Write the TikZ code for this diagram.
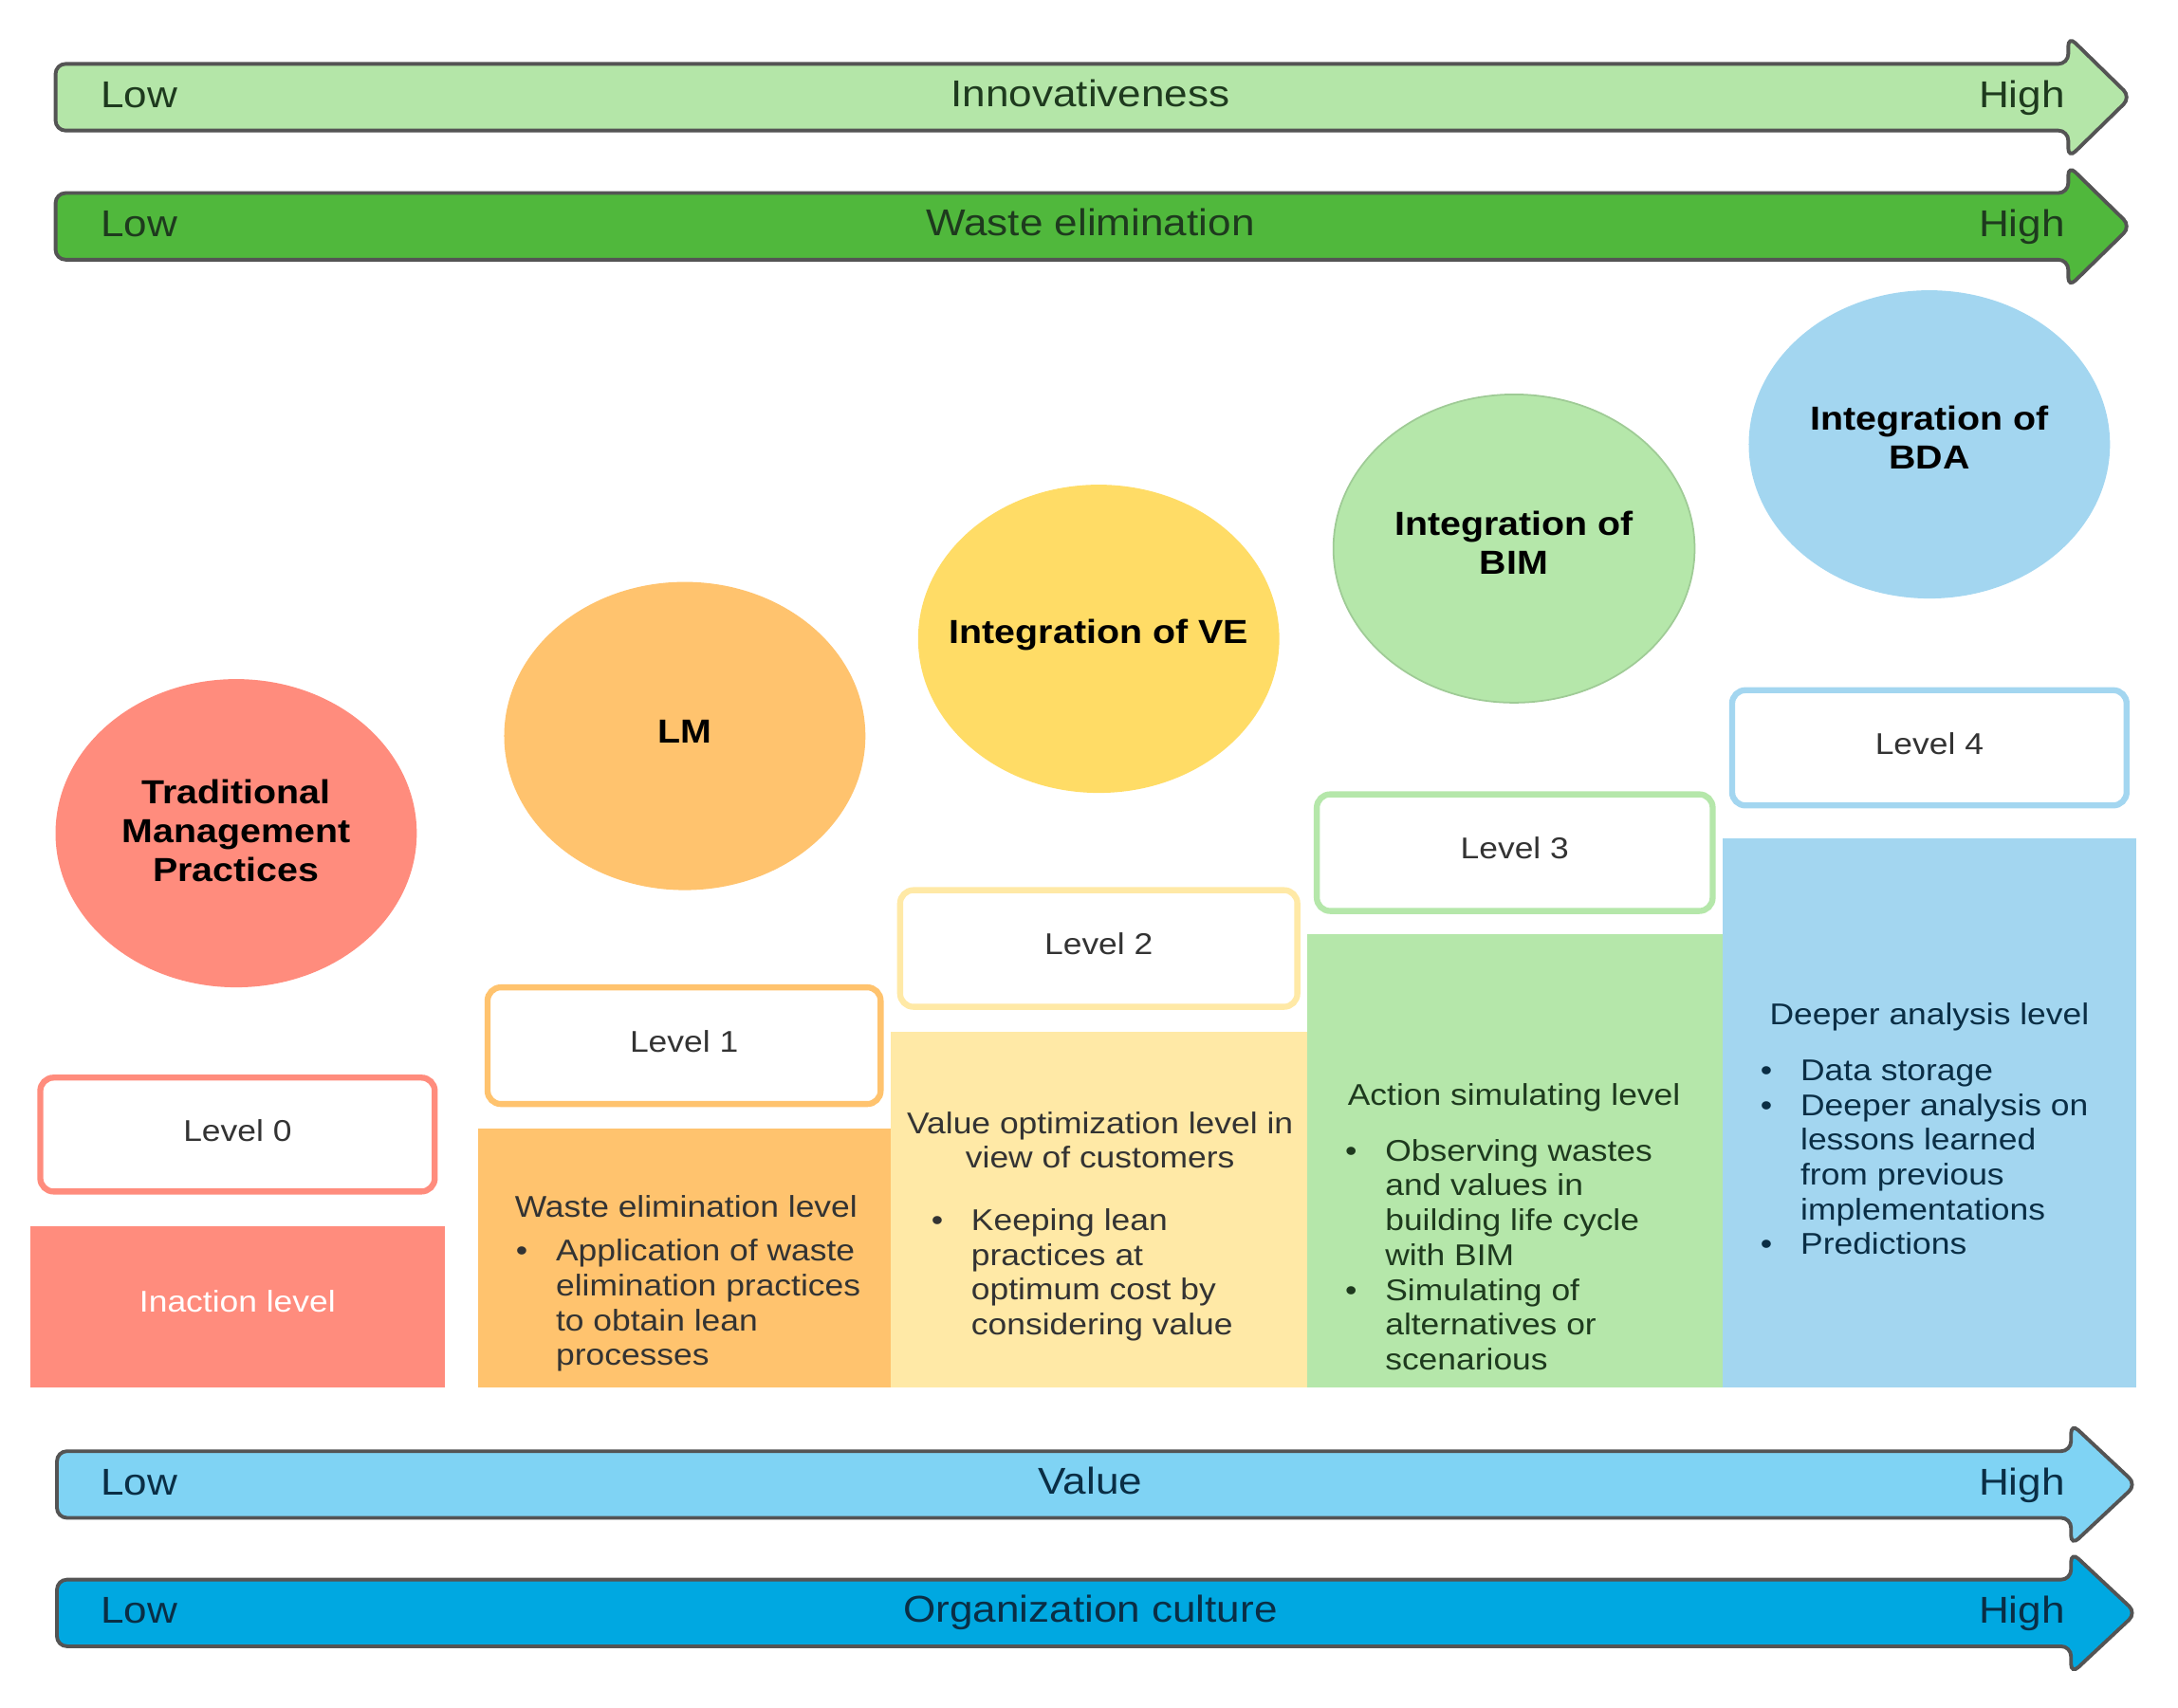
\documentclass[tikz,border=0pt]{standalone}
\usepackage{fontspec}
\setmainfont{Liberation Sans}[FakeStretch=1.12]
\usepackage{tikz}
\usetikzlibrary{calc}

\definecolor{arrA}{HTML}{B4E6A8}
\definecolor{arrB}{HTML}{50B83C}
\definecolor{arrC}{HTML}{7FD3F4}
\definecolor{arrD}{HTML}{00A8E1}
\definecolor{txtG}{HTML}{1E3A1E}
\definecolor{txtB}{HTML}{0A2E45}
\definecolor{cA}{HTML}{FF8C7D}
\definecolor{cB}{HTML}{FFC36E}
\definecolor{cC}{HTML}{FFE9A6}
\definecolor{cD}{HTML}{B5E7AA}
\definecolor{cE}{HTML}{A3D6F0}
\definecolor{ballC}{HTML}{FFDC66}

\newcommand\bodyfont{\fontsize{9}{10.45}\selectfont}

\tikzset{
  axis/.style = {draw=black!67, line width=1.1pt, rounded corners=3pt},
  axtext/.style = {font=\fontsize{11.2}{13}\selectfont, inner sep=0, text height=8pt, text depth=0pt},
  lvlbox/.style = {line width=1.8pt, rounded corners=4pt, fill=white},
  lvltext/.style = {font=\bodyfont, text=black!80, inner sep=0, text height=6.4pt, text depth=0pt},
  ball/.style = {x radius=19.04mm, y radius=16.25mm},
  balltext/.style = {inner sep=0, align=center, font=\fontsize{10}{11.7}\selectfont\bfseries},
  coltext/.style = {font=\bodyfont, inner sep=0, align=center},
  headtext/.style = {coltext, text height=6.4pt, text depth=0pt}
}

\begin{document}
\begin{tikzpicture}[x=0.14643mm, y=-0.14643mm]
\useasboundingbox (0, 0) rectangle (1568, 1229.9);
% low -> high axes
\foreach \yc/\xl/\xb/\xt/\fc/\tc/\lbl/\nm in {70/40/1489/1534/arrA/txtG/Innovativeness/inno,
    163/40/1489/1534/arrB/txtG/Waste elimination/waste,
    1069/41/1491/1538/arrC/txtB/Value/val,
    1161.5/41/1491/1538/arrD/txtB/Organization culture/cult}
{
  \draw [axis, fill=\fc] (\xl, \yc-24) -- (\xb, \yc-24) -- (\xb, \yc-44)
    -- (\xt, \yc) -- (\xb, \yc+44) -- (\xb, \yc+24) -- (\xl, \yc+24) -- cycle;
  \node at (72, \yc-2) [name=low\nm, axtext, text=\tc, anchor=west] {Low};
  \node at (1487, \yc-2) [name=high\nm, axtext, text=\tc, anchor=east] {High};
  \node at (785, \yc-3) [name=\nm, axtext, text=\tc] {\lbl};
}
% steps and level boxes
\foreach \i/\xa/\xb/\rt/\lt/\lb/\cc in {0/22/320/883/776/858/cA, 1/344/641/813/711/795/cB,
    2/641/941/743/641/725/cC, 3/941/1240/673/572/656/cD, 4/1240/1538/604/497/580/cE}
{
  \fill [\cc] (\xa, \rt) rectangle (\xb, 999);
  \draw [lvlbox, draw=\cc] (\xa+7, \lt) rectangle (\xb-7, \lb);
  \node at ({(\xa+\xb)/2}, {(\lt+\lb)/2-3}) [name=lvl\i, lvltext] {Level \i};
}
% practices
\fill [cA] (170, 600) ellipse [ball];
\fill [cB] (493, 530) ellipse [ball];
\fill [ballC] (791, 460) ellipse [ball];
\filldraw [fill=cD, draw=black!12!cD, line width=.5pt] (1090, 395) ellipse [ball];
\fill [cE] (1389, 320) ellipse [ball];
\node at (170, 598) [name=circ0, balltext] {Traditional\\Management\\Practices};
\node at (493, 527) [name=circ1, balltext] {LM};
\node at (791, 457) [name=circ2, balltext] {Integration of VE};
\node at (1090, 391) [name=circ3, balltext] {Integration of\\BIM};
\node at (1389, 315) [name=circ4, balltext] {Integration of\\BDA};
% texts of the steps
\node at (171, 937) [name=head0, headtext, text=white] {Inaction level};
\node at (494, 869) [name=head1, headtext, text=black!80] {Waste elimination level};
\node at (371, 890) [name=list1, coltext, text=black!80, anchor=north west, align=left]
  {\begin{tabular}{@{}p{12pt}@{}l@{}}
   \textbullet & Application of waste\\
   & elimination practices\\
   & to obtain lean\\
   & processes
   \end{tabular}};
\node at (792, 821) [name=head2, coltext, text=black!80] {Value optimization level in\\view of customers};
\node at (670, 868) [name=list2, coltext, text=black!80, anchor=north west, align=left]
  {\begin{tabular}{@{}p{12pt}@{}l@{}}
   \textbullet & Keeping lean\\
   & practices at\\
   & optimum cost by\\
   & considering value
   \end{tabular}};
\node at (1090, 788) [name=head3, headtext, text=txtG] {Action simulating level};
\node at (968, 818) [name=list3, coltext, text=txtG, anchor=north west, align=left]
  {\begin{tabular}{@{}p{12pt}@{}l@{}}
   \textbullet & Observing wastes\\
   & and values in\\
   & building life cycle\\
   & with BIM\\
   \textbullet & Simulating of\\
   & alternatives or\\
   & scenarious
   \end{tabular}};
\node at (1389, 730) [name=head4, headtext, text=txtB] {Deeper analysis level};
\node at (1267, 760) [name=list4, coltext, text=txtB, anchor=north west, align=left]
  {\begin{tabular}{@{}p{12pt}@{}l@{}}
   \textbullet & Data storage\\
   \textbullet & Deeper analysis on\\
   & lessons learned\\
   & from previous\\
   & implementations\\
   \textbullet & Predictions
   \end{tabular}};
\end{tikzpicture}
\end{document}
